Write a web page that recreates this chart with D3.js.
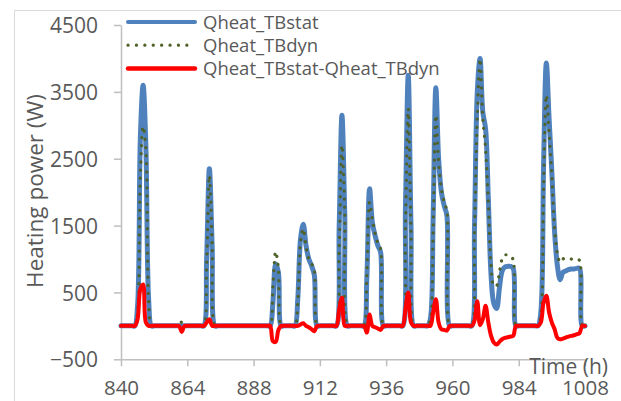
<!DOCTYPE html>
<html>
<head>
<meta charset="utf-8">
<script src="https://cdn.jsdelivr.net/npm/d3@7"></script>
<style>
  html, body { margin: 0; padding: 0; background: #ffffff; }
  svg { display: block; }
  text { font-family: "Open Sans", "Noto Sans", sans-serif; fill: #595959; }
</style>
</head>
<body>
<svg id="chart" width="621" height="401"></svg>
<script>
// Hourly time stamps (h)
const hours = d3.range(840, 1009);

// Heating power with static thermal bridges (W), one value per hour from 840 h
const qheatStat = [
  0, 0, 0, 0, 0, 0, 300, 2800, 3600, 2700,
  400, 0, 0, 0, 0, 0, 0, 0, 0, 0,
  0, 0, 0, 0, 0, 0, 0, 0, 0, 0,
  0, 1000, 2350, 1200, 0, 0, 0, 0, 0, 0,
  0, 0, 0, 0, 0, 0, 0, 0, 0, 0,
  0, 0, 0, 0, 0, 350, 930, 800, 0, 0,
  0, 0, 0, 0, 400, 1300, 1520, 1200, 1000, 900,
  760, 0, 0, 0, 0, 0, 0, 0, 0, 1500,
  3150, 1700, 0, 0, 0, 0, 0, 0, 0, 700,
  2050, 1550, 1350, 1200, 1100, 0, 0, 0, 0, 0,
  0, 0, 0, 1800, 3750, 1500, 0, 0, 0, 0,
  0, 0, 100, 1600, 3560, 2500, 2000, 1800, 1650, 0,
  0, 0, 0, 0, 0, 0, 0, 0, 1500, 3500,
  4000, 3200, 2950, 1900, 750, 330, 260, 560, 820, 880,
  890, 890, 860, 0, 0, 0, 0, 0, 0, 0,
  0, 0, 200, 2400, 3930, 3100, 2300, 1400, 900, 690,
  800, 820, 840, 850, 850, 860, 860, 0, 0
];

// Heating power with dynamic thermal bridges (W)
const qheatDyn = [
  0, 0, 0, 0, 0, 0, 200, 2250, 2980, 2650,
  400, 0, 0, 0, 0, 0, 0, 0, 0, 0,
  0, 0, 60, 0, 0, 0, 0, 0, 0, 0,
  0, 900, 2250, 1250, 0, 0, 0, 0, 0, 0,
  0, 0, 0, 0, 0, 0, 0, 0, 0, 0,
  0, 0, 0, 0, 0, 600, 1110, 850, 0, 0,
  0, 0, 0, 0, 350, 1250, 1450, 1180, 1000, 930,
  820, 0, 0, 0, 0, 0, 0, 0, 0, 1150,
  2700, 1750, 0, 0, 0, 0, 0, 0, 0, 750,
  1850, 1600, 1380, 1240, 1150, 0, 0, 0, 0, 0,
  0, 0, 0, 1500, 3250, 1400, 0, 0, 0, 0,
  0, 0, 100, 1400, 3150, 2450, 2050, 1850, 1720, 0,
  0, 0, 0, 0, 0, 0, 0, 0, 1400, 3130,
  3990, 3100, 2650, 1850, 900, 600, 600, 800, 1000, 1060,
  1060, 1040, 990, 0, 0, 0, 0, 0, 0, 0,
  0, 0, 150, 2050, 3450, 2900, 2250, 1450, 1080, 950,
  1000, 1010, 1010, 1000, 990, 990, 980, 0, 0
];

// Difference static - dynamic (W)
const qheatDiff = [
  0, 0, 0, 0, 0, 0, 100, 550, 620, 50,
  0, 0, 0, 0, 0, 0, 0, 0, 0, 0,
  0, 0, -90, 0, 0, 0, 0, 0, 0, 0,
  0, 50, 100, 0, 0, 0, 0, 0, 0, 0,
  0, 0, 0, 0, 0, 0, 0, 0, 0, 0,
  0, 0, 0, 0, 0, -230, -240, -60, 0, 0,
  0, 0, 0, 0, 0, 20, 40, 0, -20, -50,
  -80, 0, 0, 0, 0, 0, 0, 0, 0, 250,
  420, 0, 0, 0, 0, 0, 0, 0, 0, -100,
  170, 0, -20, -40, -60, 0, 0, 0, 0, 0,
  0, 0, 0, 250, 500, 50, 0, 0, 0, 0,
  0, 0, 0, 200, 400, 50, -50, -60, -70, 0,
  0, 0, 0, 0, 0, 0, 0, 0, 80, 370,
  10, 100, 300, 50, -150, -250, -280, -240, -200, -180,
  -170, -160, -150, 0, 0, 0, 0, 0, 0, 0,
  0, 0, 50, 350, 450, 200, 50, -50, -180, -200,
  -190, -175, -160, -150, -140, -125, -110, 0, 0
];

const xTicks = [840, 864, 888, 912, 936, 960, 984, 1008];
const yTicks = [-500, 500, 1500, 2500, 3500, 4500];

const seriesNames = ["Qheat_TBstat", "Qheat_TBdyn", "Qheat_TBstat-Qheat_TBdyn"];
const xTitle = "Time (h)";
const yTitle = "Heating power (W)";

const svg = d3.select("#chart");

// outer chart frame
svg.append("rect")
  .attr("x", 14.5).attr("y", 10.5)
  .attr("width", 700).attr("height", 500)
  .attr("fill", "none").attr("stroke", "#d9d9d9").attr("stroke-width", 1);

const x = d3.scaleLinear().domain([840, 1008]).range([121, 585]);
const y = d3.scaleLinear().domain([-500, 4500]).range([359.3, 25]);

const axisColor = "#bfbfbf";

// y axis
const gy = svg.append("g")
  .attr("transform", "translate(121,0)")
  .call(d3.axisLeft(y).tickValues(yTicks).tickSize(7).tickSizeOuter(0).tickPadding(16).tickFormat(d3.format("d")));
gy.select(".domain").attr("stroke", axisColor).attr("stroke-width", 1.5);
gy.selectAll(".tick line").attr("stroke", axisColor).attr("stroke-width", 1.5);
gy.selectAll(".tick text")
  .attr("font-family", "Open Sans").attr("font-size", 21)
  .attr("fill", "#595959").attr("dy", "0.36em");

// x axis
const gx = svg.append("g")
  .attr("transform", "translate(0,359.3)")
  .call(d3.axisBottom(x).tickValues(xTicks).tickSize(7).tickSizeOuter(0).tickFormat(d3.format("d")));
gx.select(".domain").attr("stroke", axisColor).attr("stroke-width", 1.5);
gx.selectAll(".tick line").attr("stroke", axisColor).attr("stroke-width", 1.5);
gx.selectAll(".tick text")
  .attr("font-family", "Open Sans").attr("font-size", 20.5)
  .attr("fill", "#595959").attr("y", 36).attr("dy", null);

// axis titles
svg.append("text")
  .attr("x", 608).attr("y", 374)
  .attr("text-anchor", "end")
  .attr("font-size", 21)
  .text(xTitle);

svg.append("text")
  .attr("transform", "translate(43,191) rotate(-90)")
  .attr("text-anchor", "middle")
  .attr("font-size", 22.5)
  .text(yTitle);

// series lines
const line = (vals) => d3.line()
  .x((d, i) => x(hours[i]))
  .y(d => y(d))
  .curve(d3.curveCatmullRom.alpha(0.5))(vals);

const plot = svg.append("g");

plot.append("path")
  .attr("d", line(qheatStat))
  .attr("fill", "none")
  .attr("stroke", "#4f81bd")
  .attr("stroke-width", 5)
  .attr("stroke-linejoin", "round")
  .attr("stroke-linecap", "round");

plot.append("path")
  .attr("d", line(qheatDyn))
  .attr("fill", "none")
  .attr("stroke", "#4f6228")
  .attr("stroke-width", 3.2)
  .attr("stroke-dasharray", "0.1 8")
  .attr("stroke-linecap", "round");

plot.append("path")
  .attr("d", line(qheatDiff))
  .attr("fill", "none")
  .attr("stroke", "#ff0000")
  .attr("stroke-width", 4)
  .attr("stroke-linejoin", "round")
  .attr("stroke-linecap", "round");

// legend
const legendStyles = [
  { stroke: "#4f81bd", width: 4, dash: null, cap: "round" },
  { stroke: "#4f6228", width: 3.2, dash: "0.1 8.3", cap: "round" },
  { stroke: "#ff0000", width: 4.5, dash: null, cap: "round" }
];
const legend = svg.append("g");
seriesNames.forEach((name, i) => {
  const yy = 22 + i * 23.2;
  const st = legendStyles[i];
  legend.append("line")
    .attr("x1", 128).attr("x2", 195)
    .attr("y1", yy).attr("y2", yy)
    .attr("stroke", st.stroke)
    .attr("stroke-width", st.width)
    .attr("stroke-linecap", st.cap)
    .attr("stroke-dasharray", st.dash);
  legend.append("text")
    .attr("x", 203).attr("y", yy + 6.5)
    .attr("font-size", 18.5)
    .text(name);
});
</script>
</body>
</html>
